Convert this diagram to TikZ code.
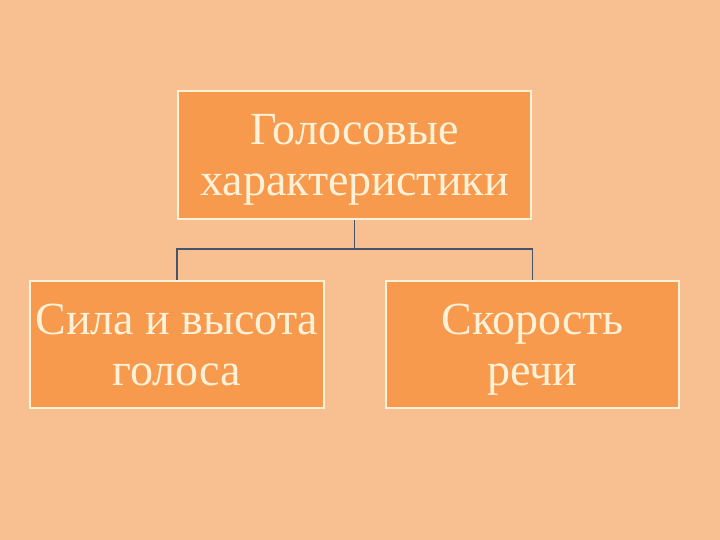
\documentclass[tikz,border=0pt]{standalone}
\usepackage{fontspec}
\setmainfont{Liberation Serif}
\usetikzlibrary{positioning}

\definecolor{bgpeach}{HTML}{F8C091}
\definecolor{boxorange}{HTML}{F79A4D}
\definecolor{boxrim}{HTML}{FFF2D8}
\definecolor{linkslate}{HTML}{44546A}

\newcommand{\rowstrut}{\rule[-10pt]{0pt}{51pt}}

\begin{document}
\begin{tikzpicture}[x=1pt, y=1pt,
        box/.style={draw=boxrim, line width=1.6pt, fill=boxorange, text=boxrim,
            align=center, inner sep=0pt,
            font=\fontsize{46}{51}\selectfont},
        link/.style={draw=linkslate, line width=1.6pt}]
        \fill[bgpeach] (0,0) rectangle (720,-540);
        \useasboundingbox (0,0) rectangle (720,-540);

        \node[box, minimum width=353pt, minimum height=128pt] (top)   at (354.5,-155)   {\rowstrut Голосовые\\\rowstrut характеристики};
        \node[box, minimum width=294pt, minimum height=127pt] (left)  at (177,-344.5)   {\rowstrut Сила и высота\\\rowstrut голоса};
        \node[box, minimum width=293pt, minimum height=127pt] (right) at (532.5,-344.5) {\rowstrut Скорость\\\rowstrut речи};
        \coordinate (fork) at (top.south |- 0,-249);

        \draw[link] (top.south) -- (fork);
        \draw[link] (fork) -| (left.north);
        \draw[link] (fork) -| (right.north);
     \end{tikzpicture}
\end{document}
